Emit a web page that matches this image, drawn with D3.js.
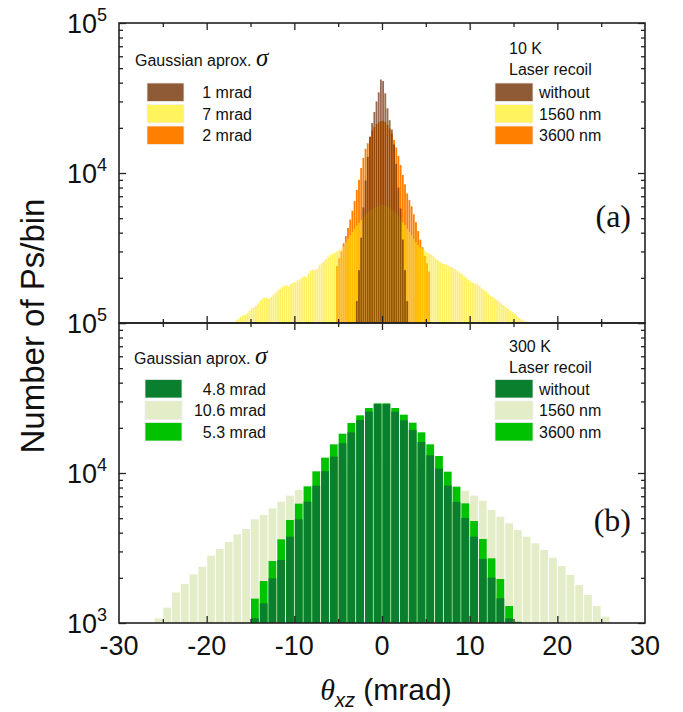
<!DOCTYPE html>
<html><head><meta charset="utf-8">
<script src="https://cdn.jsdelivr.net/npm/d3@7"></script>
<style>body{margin:0;background:#fff}svg{display:block}</style>
</head><body>
<svg id="c" width="683" height="712"></svg>
<script>
// ---------- Panel (a): 10 K, bins of 0.25 mrad ----------
const binWA = 0.25;
const brownStartA = -3.0;   // without laser recoil (Gaussian 1 mrad)
const brownA = [1400, 2250, 3700, 5900, 8900, 12800, 17400, 21500, 25500, 30000, 34500, 42000,
                41000, 34000, 27000, 22500, 19500, 15500, 11500, 8000, 5800, 3600, 2250, 1400];
const orangeStartA = -5.25; // 3600 nm (Gaussian 2 mrad)
const orangeA = [2400, 2700, 3000, 3400, 3800, 4300, 4900, 5600, 6500, 7700, 9000, 10800, 12600, 14500,
                 15800, 17500, 19200, 20300, 21200, 21800, 22200, 22300, 21900, 21000, 19800, 18300,
                 16600, 14800, 13000, 11300, 9700, 8400, 7300, 6600, 6000, 5300, 4700, 4100, 3600,
                 3200, 2800, 2500, 2200];
const yellowStartA = -16.75; // 1560 nm (Gaussian 7 mrad)
const yellowA = [1040, 1070, 1100, 1120, 1135, 1160, 1205, 1250, 1270, 1300, 1350, 1410, 1455, 1480,
                 1475, 1455, 1495, 1550, 1595, 1650, 1690, 1740, 1775, 1780, 1750, 1815, 1855, 1875,
                 1930, 1955, 2010, 2055, 2020, 2140, 2250, 2255, 2260, 2300, 2430, 2500, 2575, 2670,
                 2770, 2840, 2900, 2940, 3000, 3070, 3120, 3250, 3450, 3650, 3850, 4050, 4250, 4450,
                 4650, 4850, 5050, 5250, 5450, 5600, 5750, 5850, 5950, 6050, 6100,
                 6100, 6050, 5950, 5850, 5700, 5550, 5350, 5150, 4950, 4700, 4500, 4250, 4050, 3850,
                 3650, 3450, 3300, 3180, 3140, 3050, 2960, 2900, 2870, 2780, 2680, 2620, 2560, 2500,
                 2470, 2430, 2400, 2370, 2330, 2280, 2230, 2170, 2110, 2050, 2000, 1940, 1890, 1860,
                 1830, 1810, 1760, 1700, 1660, 1620, 1570, 1520, 1490, 1460, 1425, 1390, 1350, 1315,
                 1280, 1240, 1210, 1180, 1155, 1120, 1080, 1060, 1040, 1030, 1015, 1005];

// ---------- Panel (b): 300 K, bins of 1 mrad ----------
const binWB = 1;
const lightStartB = -26; // 1560 nm (Gaussian 10.6 mrad)
const lightB = [1074, 1265, 1601, 1820, 2110, 2374, 2811, 3115, 3467, 3900, 4234, 4911, 5248, 5813,
                6440, 7063, 7703, 8000, 8600, 9300, 9900, 10400, 10900, 11300, 11600, 11800,
                11800, 11600, 11300, 10900, 10400, 9900, 9300, 8700, 8000, 7625, 7063, 6540, 5667,
                5116, 4617, 4169, 3763, 3397, 3067, 2726, 2399, 2089, 1792, 1537, 1298, 1102];
const brightStartB = -15; // 3600 nm (Gaussian 5.3 mrad)
const brightB = [1453, 1905, 2590, 3612, 4861, 6246, 8150, 10259, 12654, 15530, 18290, 21540, 24240,
                 27130, 29140, 29140, 27130, 24490, 21650, 18670, 15530, 12980, 10206, 8108, 6278,
                 4786, 3631, 2698, 1965, 1298, 1020];
const darkStartB = -15; // without laser recoil (Gaussian 4.8 mrad)
const darkB = [1074, 1352, 1985, 2630, 3763, 4911, 6440, 8232, 10311, 12850, 15770, 18670, 22560,
               25640, 28840, 28840, 25640, 22440, 19350, 16090, 13120, 10688, 8232, 6408, 5012,
               3763, 2671, 2005, 1460, 1074];

// ---------- Axis ticks / labels ----------
const xTickLabels = [-30, -20, -10, 0, 10, 20, 30];
const xMinorTicks = [-25, -15, -5, 5, 15, 25];
const xMajorTicks = [-20, -10, 0, 10, 20];
const yLabelsA = [{v: 1e5, e: "5"}, {v: 1e4, e: "4"}];
const yLabelsB = [{v: 1e5, e: "5"}, {v: 1e4, e: "4"}, {v: 1e3, e: "3"}];
const legendSigmaA = ["1 mrad", "7 mrad", "2 mrad"];
const legendRecoilA = ["without", "1560 nm", "3600 nm"];
const legendSigmaB = ["4.8 mrad", "10.6 mrad", "5.3 mrad"];
const legendRecoilB = ["without", "1560 nm", "3600 nm"];

const svg = d3.select("#c");
const SANS = "'Liberation Sans', Arial, sans-serif";
const SERIF = "'Liberation Serif', 'Times New Roman', serif";

const L = 119, R = 645;
const x = d3.scaleLinear().domain([-30, 30]).range([L, R]);
const yA = d3.scaleLog().domain([1e3, 1e5]).range([323, 23]);
const yB = d3.scaleLog().domain([1e3, 1e5]).range([623, 323]);

function bars(g, start, w, vals, y, fill, opacity, gap, stroke) {
  g.selectAll(null).data(vals.map((v, i) => ({e: start + i * w, v})).filter(d => d.v > 1000))
    .enter().append("rect")
    .attr("x", d => x(d.e) + gap / 2)
    .attr("width", d => x(d.e + w) - x(d.e) - gap)
    .attr("y", d => y(d.v))
    .attr("height", d => y(1e3) - y(d.v))
    .attr("fill", fill)
    .attr("fill-opacity", opacity)
    .attr("stroke", stroke || "none")
    .attr("stroke-width", stroke ? 0.6 : 0);
}

// panel a bars
const ga = svg.append("g");
bars(ga, orangeStartA, binWA, orangeA, yA, "#FF7F00", 1, 0.35);
bars(ga, yellowStartA, binWA, yellowA, yA, "#FFE600", 0.6, 0.35);
bars(ga, brownStartA, binWA, brownA, yA, "#6B2E05", 0.7, 0.35);

// panel b bars
const gb = svg.append("g");
bars(gb, lightStartB, binWB, lightB, yB, "#E3EEC8", 1, 1.0);
bars(gb, brightStartB, binWB, brightB, yB, "#00C200", 1, 1.0);
bars(gb, darkStartB, binWB, darkB, yB, "#0A7F2E", 1, 1.0);

// frames and ticks
function panelAxes(y, top, bottom) {
  const g = svg.append("g");
  const styleTicks = sel => {
    sel.select(".domain").remove();
    sel.selectAll(".tick line").attr("stroke", "#222").attr("stroke-width", 1.3);
    sel.selectAll(".tick text").remove();
  };
  [[xMajorTicks, 7], [xMinorTicks, 4]].forEach(([vals, len]) => {
    g.append("g").attr("transform", `translate(0,${bottom})`)
      .call(d3.axisBottom(x).tickValues(vals).tickSize(-len).tickFormat("")).call(styleTicks);
    g.append("g").attr("transform", `translate(0,${top})`)
      .call(d3.axisTop(x).tickValues(vals).tickSize(-len).tickFormat("")).call(styleTicks);
  });
  const majors = [1e3, 1e4, 1e5];
  const minors = [];
  [1e3, 1e4].forEach(d => { for (let k = 2; k <= 9; k++) minors.push(d * k); });
  [[majors, 7], [minors, 4]].forEach(([vals, len]) => {
    g.append("g").attr("transform", `translate(${L},0)`)
      .call(d3.axisLeft(y).tickValues(vals).tickSize(-len).tickFormat("")).call(styleTicks);
    g.append("g").attr("transform", `translate(${R},0)`)
      .call(d3.axisRight(y).tickValues(vals).tickSize(-len).tickFormat("")).call(styleTicks);
  });
  g.append("rect").attr("x", L).attr("y", top).attr("width", R - L).attr("height", bottom - top)
    .attr("fill", "none").attr("stroke", "#222").attr("stroke-width", 1.6);
}
panelAxes(yA, 23, 323);
panelAxes(yB, 323, 623);

// y tick labels
function yLabels(list, y) {
  list.forEach(d => {
    const t = svg.append("text").attr("x", 107).attr("y", y(d.v) + 10)
      .attr("text-anchor", "end").attr("font-family", SANS).attr("fill", "#111");
    t.append("tspan").attr("font-size", 27).text("10");
    t.append("tspan").attr("font-size", 18).attr("dy", -12).text(d.e);
  });
}
yLabels(yLabelsA, yA);
yLabels(yLabelsB, yB);

// x tick labels
svg.append("g").selectAll("text").data(xTickLabels).enter().append("text")
  .attr("x", d => x(d)).attr("y", 655).attr("text-anchor", "middle")
  .attr("font-family", SANS).attr("font-size", 27).attr("fill", "#111")
  .text(d => String(d));

// axis titles
const xt = svg.append("text").attr("x", 386).attr("y", 700).attr("text-anchor", "middle")
  .attr("font-family", SANS).attr("font-size", 30).attr("fill", "#111");
xt.append("tspan").attr("font-family", SERIF).attr("font-style", "italic").text("θ");
xt.append("tspan").attr("font-style", "italic").attr("font-size", 20).attr("dy", 7).text("xz");
xt.append("tspan").attr("dy", -7).text(" (mrad)");

svg.append("text").attr("transform", "translate(44,326) rotate(-90)").attr("text-anchor", "middle")
  .attr("font-family", SANS).attr("font-size", 33).attr("fill", "#111").text("Number of Ps/bin");

// panel letters
svg.append("text").attr("x", 631).attr("y", 227).attr("text-anchor", "end")
  .attr("font-family", SERIF).attr("font-size", 32).attr("fill", "#111").text("(a)");
svg.append("text").attr("x", 631).attr("y", 531).attr("text-anchor", "end")
  .attr("font-family", SERIF).attr("font-size", 32).attr("fill", "#111").text("(b)");

// legends
function legend(opts) {
  const g = svg.append("g").attr("font-family", SANS).attr("fill", "#111");
  const h = g.append("text").attr("x", opts.lx).attr("y", opts.titleY).attr("font-size", 16);
  h.append("tspan").text("Gaussian aprox.  ");
  h.append("tspan").attr("font-family", SERIF).attr("font-style", "italic").attr("font-size", 25).text("σ");
  g.append("text").attr("x", 509).attr("y", opts.titleY - 12).attr("font-size", 16).text(opts.temp);
  g.append("text").attr("x", 509).attr("y", opts.titleY + 9).attr("font-size", 16).text("Laser recoil");
  opts.colors.forEach((c, i) => {
    const sy = opts.sy + i * 21.5;
    g.append("rect").attr("x", opts.sx).attr("y", sy).attr("width", 37).attr("height", 18.5)
      .attr("fill", c).attr("stroke", "#eee").attr("stroke-width", 0.8);
    g.append("rect").attr("x", 495).attr("y", sy).attr("width", 38).attr("height", 18.5)
      .attr("fill", c).attr("stroke", "#eee").attr("stroke-width", 0.8);
    g.append("text").attr("x", opts.tx).attr("y", sy + 15).attr("text-anchor", "end")
      .attr("font-size", 16).text(opts.sig[i]);
    g.append("text").attr("x", 539).attr("y", sy + 15).attr("font-size", 16).text(opts.rec[i]);
  });
}
legend({lx: 135, titleY: 66, temp: "10 K", sx: 147, sy: 83, tx: 252,
        colors: ["#8F5A36", "#FFF35E", "#FF7F00"], sig: legendSigmaA, rec: legendRecoilA});
legend({lx: 134, titleY: 364, temp: "300 K", sx: 145, sy: 379.5, tx: 266,
        colors: ["#0A7F2E", "#E3EEC8", "#00C200"], sig: legendSigmaB, rec: legendRecoilB});
</script>
</body></html>
